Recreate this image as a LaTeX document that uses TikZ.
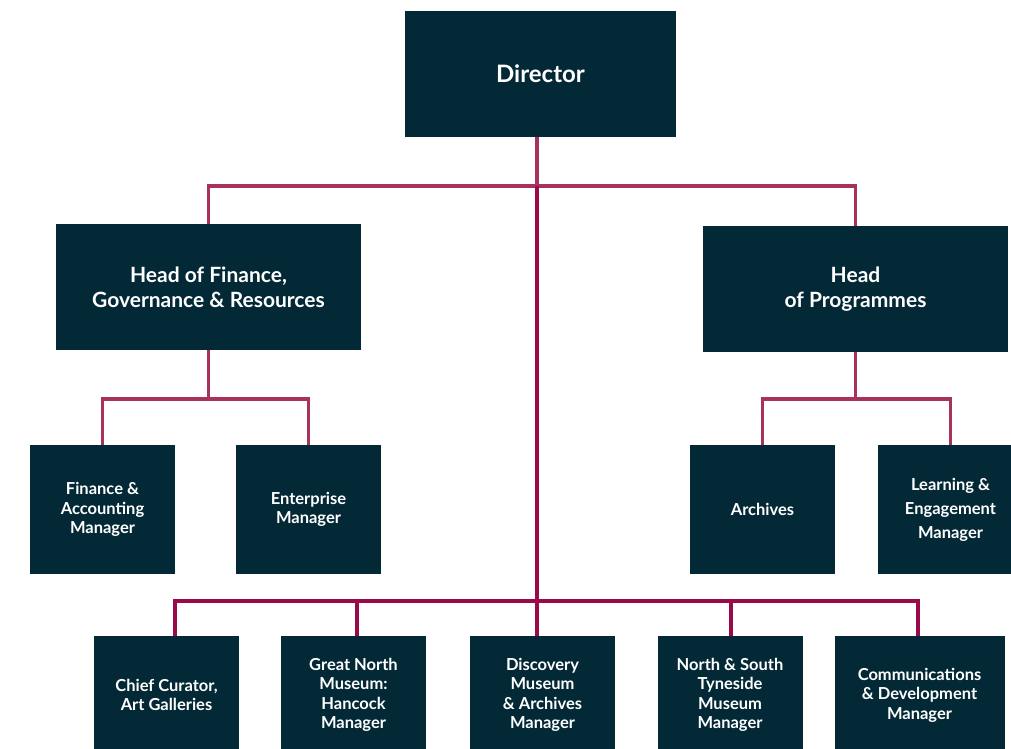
\documentclass[tikz,border=0pt]{standalone}
\usepackage{fontspec}
\setmainfont{Lato}
\definecolor{boxc}{HTML}{032936}
\definecolor{linec}{HTML}{A8325E}
\definecolor{linec2}{HTML}{9A0A4B}
\tikzset{
  box/.style={fill=boxc, text=white, font=\bfseries, align=center, inner sep=0pt, draw=none},
  big/.style={box, font=\fontsize{24}{28}\selectfont\bfseries},
  head/.style={box, font=\fontsize{21}{25}\selectfont\bfseries},
  small/.style={box, font=\fontsize{16.5}{19.5}\selectfont\bfseries},
  smallwide/.style={box, font=\fontsize{16.5}{24}\selectfont\bfseries},
  conn/.style={draw=linec, line width=3.6pt},
  conn2/.style={draw=linec2, line width=3.6pt},
}
\begin{document}
\begin{tikzpicture}[x=1pt,y=-1pt]
\clip (0,0) rectangle (1011,748);
\fill[white] (0,0) rectangle (1011,748);
% boxes
\node[big, minimum width=271pt, minimum height=126pt] (dir) at (540.5,74) {Director};
\node[head, minimum width=305pt, minimum height=126pt] (hfin) at (208.5,287) {Head of Finance,\\Governance \& Resources};
\node[head, minimum width=305pt, minimum height=126pt] (hprog) at (855.5,289) {Head\\of Programmes};
\node[small, minimum width=145pt, minimum height=129pt] (fam) at (102.5,509.5) {Finance \&\\Accounting\\Manager};
\node[small, minimum width=145pt, minimum height=129pt] (ent) at (308.5,509.5) {Enterprise\\Manager};
\node[small, minimum width=145pt, minimum height=129pt] (arc) at (762.5,509.5) {Archives};
\node[smallwide, minimum width=145pt, minimum height=129pt] (lem) at (950.5,509.5) {Learning \&\\Engagement\\Manager};
\node[small, minimum width=145pt, minimum height=118pt] (cc) at (166.5,695) {Chief Curator,\\Art Galleries};
\node[small, minimum width=145pt, minimum height=118pt] (gn) at (353.5,695) {Great North\\Museum:\\Hancock\\Manager};
\node[small, minimum width=145pt, minimum height=118pt] (dm) at (542.5,695) {Discovery\\Museum\\\& Archives\\Manager};
\node[small, minimum width=145pt, minimum height=118pt] (ns) at (730,695) {North \& South\\Tyneside\\Museum\\Manager};
\node[small, minimum width=170pt, minimum height=118pt] (cd) at (919.5,695) {Communications\\\& Development\\Manager};
% junction coordinates
\coordinate (jt) at (537,186);
\coordinate (jb) at (537,601);
\coordinate (j1) at (175,601);
\coordinate (j2) at (357,601);
\coordinate (j4) at (731,601);
\coordinate (j5) at (918,601);
% connectors
\draw[conn] (hfin.north) -- (hfin.north |- jt) -| (hprog.north);
\draw[conn] (dir.south -| jt) -- (jt);
\draw[conn] (hfin.south) -- ++(0,49) coordinate (jf) -| (ent.north);
\draw[conn] (jf) -| (fam.north);
\draw[conn] (hprog.south) -- ++(0,47) coordinate (jp) -| (lem.north);
\draw[conn] (jp) -| (arc.north);
\draw[conn2] (j1 |- cc.north) -- (j1) -- (j5) -- (j5 |- cd.north);
\draw[conn2] (jt) -- (jb) -- (jb |- dm.north);
\draw[conn2] (j2) -- (j2 |- gn.north);
\draw[conn2] (j4) -- (j4 |- ns.north);
\end{tikzpicture}
\end{document}
